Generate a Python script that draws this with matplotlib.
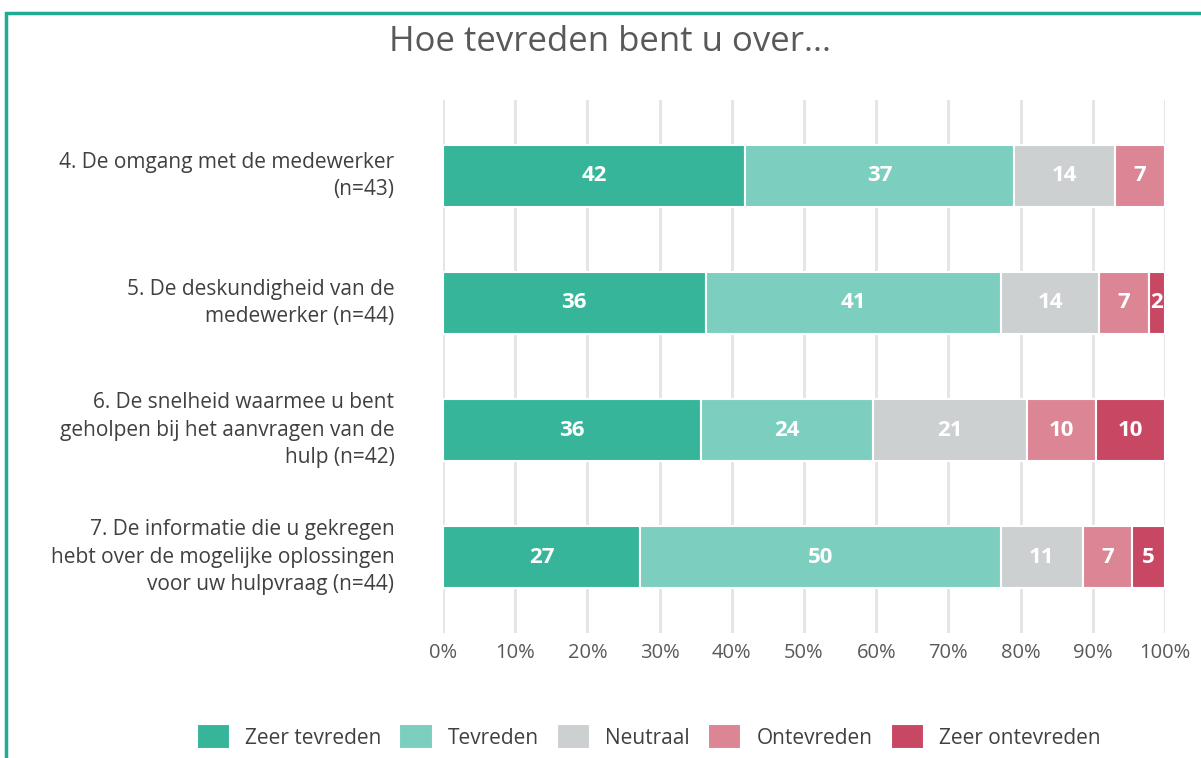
import matplotlib.pyplot as plt
from matplotlib.patches import Rectangle
import numpy as np

plt.rcParams['font.family'] = ['Open Sans', 'DejaVu Sans']

questions = [
    "4. De omgang met de medewerker\n(n=43)",
    "5. De deskundigheid van de\nmedewerker (n=44)",
    "6. De snelheid waarmee u bent\ngeholpen bij het aanvragen van de\nhulp (n=42)",
    "7. De informatie die u gekregen\nhebt over de mogelijke oplossingen\nvoor uw hulpvraag (n=44)",
]
categories = ["Zeer tevreden", "Tevreden", "Neutraal", "Ontevreden", "Zeer ontevreden"]
colors = ["#37b59a", "#7ccfbe", "#cdd0d1", "#dc8595", "#c84863"]

# answer counts per question (columns follow categories)
counts = np.array([
    [18, 16, 6, 3, 0],
    [16, 18, 6, 3, 1],
    [15, 10, 9, 4, 4],
    [12, 22, 5, 3, 2],
])
# labels as printed on the bars (rounded percentages)
labels = [
    [42, 37, 14, 7, None],
    [36, 41, 14, 7, 2],
    [36, 24, 21, 10, 10],
    [27, 50, 11, 7, 5],
]

shares = counts / counts.sum(axis=1, keepdims=True) * 100

fig = plt.figure(figsize=(12.01, 7.58), dpi=100)
ax = fig.add_axes([443 / 1201, 1 - 633 / 758, 722 / 1201, 533 / 758])

y = np.arange(len(questions))
left = np.zeros(len(questions))
for j, cat in enumerate(categories):
    bars = ax.barh(y, shares[:, j], left=left, height=0.49, color=colors[j],
                   edgecolor="white", linewidth=1.5, label=cat, zorder=3)
    for i, b in enumerate(bars):
        lab = labels[i][j]
        if lab is None or shares[i, j] == 0:
            continue
        ax.text(left[i] + shares[i, j] / 2, y[i], str(lab), ha="center", va="center",
                color="white", fontsize=16, fontweight="bold", zorder=4)
    left += shares[:, j]

ax.set_xlim(0, 100)
ax.set_ylim(3.598, -0.598)
ax.set_yticks(y)
ax.set_yticklabels(questions, fontsize=15, color="#404040", linespacing=1.4)
for t in ax.get_yticklabels():
    t.set_verticalalignment("center")
ax.set_xticks(np.arange(0, 101, 10))
ax.set_xticklabels([f"{v}%" for v in range(0, 101, 10)], fontsize=14.5, color="#595959")
ax.tick_params(length=0)
ax.tick_params(axis="x", pad=7)
ax.tick_params(axis="y", pad=35)
ax.xaxis.grid(True, color="#e4e4e4", linewidth=2, zorder=0)
for s in ax.spines.values():
    s.set_visible(False)

fig.text(0.508, 0.945, "Hoe tevreden bent u over...", ha="center", va="center",
         fontsize=25, color="#595959")

fig.legend(loc="center", bbox_to_anchor=(0.54, 0.028), ncol=5, frameon=False,
           fontsize=15, handlelength=1.6, handleheight=1.45, columnspacing=0.87,
           handletextpad=0.72, labelcolor="#404040")

fig.add_artist(Rectangle((6 / 1201, -0.1), 1.2, 1.1 - 13 / 758, transform=fig.transFigure,
                         fill=False, edgecolor="#1fab94", linewidth=2.5))

fig.savefig("out.png", dpi=100)
